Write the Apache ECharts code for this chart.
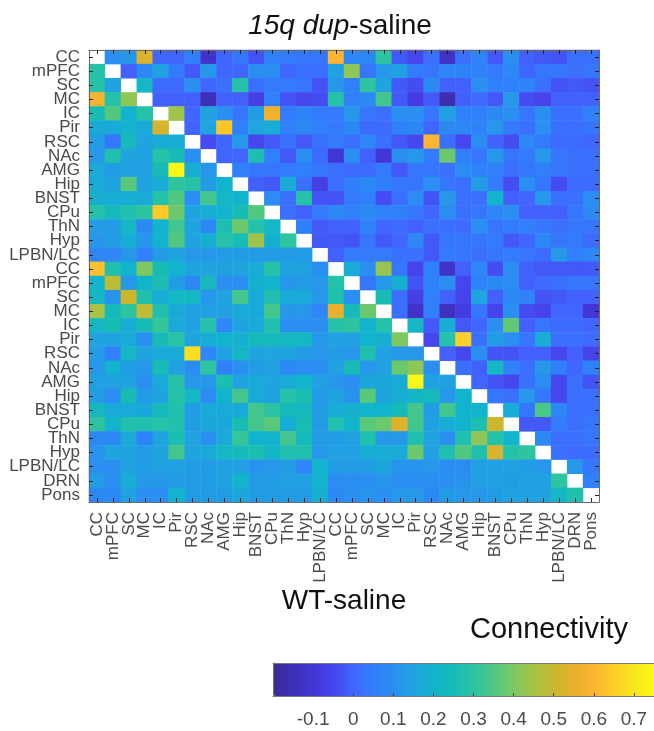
<!DOCTYPE html>
<html><head><meta charset="utf-8">
<style>html,body{margin:0;padding:0;background:#fff}#c{width:654px;height:731px}</style>
<script src="https://cdn.jsdelivr.net/npm/echarts@6/dist/echarts.min.js"></script>
</head><body><div id="c"></div>
<script>
const regions = ['CC','mPFC','SC','MC','IC','Pir','RSC','NAc','AMG','Hip','BNST','CPu','ThN','Hyp','LPBN/LC','CC','mPFC','SC','MC','IC','Pir','RSC','NAc','AMG','Hip','BNST','CPu','ThN','Hyp','LPBN/LC','DRN','Pons'];
const colorbarTicks = [-0.1,0,0.1,0.2,0.3,0.4,0.5,0.6,0.7];
const colorStops = ['#3b2a98','#3f2fb8','#4236d6','#4646ee','#4066ff','#3080fb','#2a8ff0','#1fa4df','#12b3cc','#18bcb5','#2ec4a0','#50c880','#7fc860','#a8c244','#ccb62e','#e8b02c','#fdb532','#fcd028','#f8e81e','#f9fb15'];
const _ = null;
const r00=[_,.1,.12,.53,0,0,.05,-.12,0,.03,-.03,.05,.04,.03,.03,.6,.07,.08,.3,-.02,-.05,.02,-.13,.02,.06,-.02,.1,-.01,-.02,-.03,.02,.02];
const r01=[.28,_,-.01,.08,.14,.04,-.02,.12,0,0,.1,.1,0,.02,.02,.14,.42,.03,.12,.14,.04,.03,.07,.06,.06,.04,.08,0,.03,.03,.02,.03];
const r02=[.28,.15,_,.22,.01,.01,.1,0,.02,.28,.02,.04,.04,.03,-.03,.12,.05,.3,.15,-.02,-.04,.08,-.01,-.01,.1,.05,.05,.06,.02,-.03,-.02,-.03];
const r03=[.58,.28,.42,_,-.01,-.01,-.01,-.15,-.01,-.01,-.07,.05,-.03,-.05,-.04,.28,.05,.08,.33,-.02,-.08,-.02,-.16,-.01,.01,-.02,.12,-.04,-.06,-.01,-.01,-.01];
const r04=[.25,.35,.2,.28,_,.44,0,.15,.1,.03,.13,.57,.04,.06,.04,.04,.12,.03,.02,.1,.1,.03,.14,.05,.05,.08,.1,.03,.1,.02,.02,.05];
const r05=[.17,.17,.2,.17,.52,_,0,.15,.63,.05,.15,.18,.05,.08,.05,.04,.08,.01,.01,.06,.08,0,.08,.07,.06,.12,.04,.02,.1,.02,.02,.03];
const r06=[.13,.03,.24,.15,.18,.18,_,-.04,0,.12,-.05,-.02,.02,-.02,.02,.04,.02,.07,.02,-.02,-.05,.6,.02,-.05,.09,-.01,-.04,.07,.04,.01,.01,0];
const r07=[.12,.27,.15,.14,.28,.25,.1,_,0,0,.26,.05,-.02,.1,.01,-.1,.1,-.01,-.1,.1,.12,.04,.38,.05,.03,.12,.03,.04,.12,.03,.02,.02];
const r08=[.17,.13,.14,.14,.25,.74,.18,.12,_,.05,.03,.03,.04,.05,.03,.02,.01,.01,.04,-.02,.03,.03,.02,.09,.06,.05,.02,.03,.05,.03,.02,.02];
const r09=[.17,.15,.36,.15,.18,.3,.28,.13,.2,_,-.01,-.02,.17,.02,-.07,.02,.05,.08,.05,.03,.03,.1,.03,.02,.13,.04,-.04,.1,.03,-.04,.01,.01];
const r10=[.19,.18,.18,.17,.28,.35,.1,.33,.22,.2,_,.09,.02,.28,-.03,-.03,.04,.05,-.04,.02,.09,-.03,.12,.02,.02,.2,-.01,0,.12,.02,.02,.09];
const r11=[.28,.24,.27,.3,.64,.38,.15,.18,.2,.25,.35,_,.02,-.01,.04,.08,.05,.08,.06,.05,.03,0,.09,.02,.03,.07,.1,-.01,-.01,-.01,.03,.08];
const r12=[.13,.13,.22,.08,.2,.33,.15,.08,.26,.38,.28,.22,_,.05,-.02,-.01,-.01,.06,0,.01,-.01,.02,.02,.01,.1,.03,.04,.05,.03,.02,.03,.03];
const r13=[.12,.13,.18,.12,.2,.35,.15,.19,.28,.25,.44,.19,.3,_,-.02,-.02,-.03,.03,-.02,0,.08,-.02,.03,.03,.03,.04,-.02,0,.08,.03,.04,.01];
const r14=[.07,.07,.12,.05,.13,.15,.12,.12,.13,.13,.13,.13,.13,.13,_,-.01,.04,.04,.04,.02,.02,-.02,.04,.03,.02,.03,.04,.03,.01,.12,.05,.07];
const r15=[.62,.27,.2,.4,.25,.2,.15,.15,.14,.15,.18,.28,.15,.14,.1,_,.17,.1,.43,.03,-.06,.05,-.12,-.01,.07,-.04,.09,-.01,-.02,-.02,-.02,-.02];
const r16=[.2,.48,.12,.2,.26,.13,.08,.23,.1,.1,.19,.2,.12,.13,.12,.28,_,.03,.12,.19,-.03,.05,.1,-.05,.06,.08,.09,-.01,.01,.02,.03,.03];
const r17=[.22,.11,.5,.27,.18,.22,.22,.12,.15,.33,.17,.27,.17,.17,.12,.27,.1,_,.25,.02,-.07,.05,-.01,-.06,.15,-.01,.08,.06,-.03,-.02,-.01,-.01];
const r18=[.45,.24,.3,.48,.27,.17,.14,.14,.14,.17,.17,.33,.12,.12,.07,.55,.24,.38,_,.02,-.12,.05,-.14,-.08,.03,-.06,.1,-.04,-.06,0,0,-.1];
const r19=[.22,.25,.18,.25,.31,.17,.14,.28,.07,.15,.17,.27,.1,.1,.1,.28,.3,.2,.28,_,.22,-.02,.18,-.02,0,.1,.37,-.01,.03,.01,.01,0];
const r20=[.15,.15,.17,.1,.25,.29,.15,.18,.2,.19,.24,.24,.22,.22,.12,.14,.14,.2,.19,.4,_,-.05,.28,.65,.02,.13,.1,.03,.18,.02,.02,.01];
const r21=[.13,.05,.22,.15,.17,.17,.68,.07,.14,.22,.15,.15,.15,.13,.12,.13,.12,.27,.14,.12,.12,_,-.01,-.05,.1,-.03,-.03,-.01,-.01,-.05,-.01,-.06];
const r22=[.12,.2,.13,.12,.25,.14,.09,.3,.05,.1,.13,.14,.08,.09,.1,.14,.25,.12,.14,.38,.42,.1,_,.02,-.01,.22,.06,.02,.12,.05,0,.06];
const r23=[.14,.14,.15,.1,.17,.28,.12,.12,.26,.15,.17,.15,.17,.2,.14,.12,.1,.16,.16,.17,.74,.14,.14,_,0,-.03,-.05,.02,.09,-.05,.02,-.03];
const r24=[.13,.09,.25,.13,.15,.28,.22,.09,.2,.33,.17,.14,.28,.26,.13,.15,.11,.36,.15,.18,.21,.24,.12,.2,_,.03,.02,.12,.03,-.05,.02,.02];
const r25=[.23,.17,.17,.16,.24,.27,.13,.17,.17,.17,.33,.29,.24,.23,.13,.18,.19,.2,.2,.24,.33,.13,.33,.2,.2,_,.18,.03,.34,.08,.02,.02];
const r26=[.3,.2,.27,.27,.28,.27,.13,.16,.16,.25,.33,.36,.18,.25,.13,.27,.2,.36,.38,.53,.33,.14,.18,.2,.26,.5,_,-.02,-.02,.04,.02,.03];
const r27=[.08,.08,.17,.06,.15,.26,.15,.1,.17,.31,.2,.2,.33,.24,.13,.13,.14,.27,.12,.12,.27,.15,.1,.27,.42,.28,.2,_,.08,.02,.02,.03];
const r28=[.11,.15,.15,.13,.15,.33,.15,.17,.22,.24,.26,.21,.27,.27,.12,.14,.14,.18,.18,.17,.38,.14,.27,.35,.27,.52,.28,.3,_,.02,.01,.01];
const r29=[.1,.1,.14,.13,.14,.14,.13,.13,.14,.14,.11,.12,.13,.07,.2,.13,.13,.13,.16,.11,.11,.12,.09,.09,.14,.14,.14,.13,.12,_,.12,.03];
const r30=[.13,.1,.18,.12,.12,.13,.13,.13,.14,.2,.13,.13,.14,.14,.2,.09,.1,.1,.12,.1,.1,.1,.1,.11,.14,.14,.13,.14,.14,.3,_,.05];
const r31=[.08,.08,.14,.1,.1,.2,.13,.13,.13,.16,.13,.13,.13,.13,.19,.08,.1,.11,.1,.12,.12,.08,.13,.12,.12,.13,.14,.14,.14,.22,.27,_];
const rows=[r00,r01,r02,r03,r04,r05,r06,r07,r08,r09,r10,r11,r12,r13,r14,r15,r16,r17,r18,r19,r20,r21,r22,r23,r24,r25,r26,r27,r28,r29,r30,r31];

const cells=[];
rows.forEach((row,y)=>row.forEach((v,x)=>{ if(v!==null) cells.push([x,y,v]); }));

const font='"Liberation Sans",Arial,sans-serif';
const frame={show:true,onZero:false,lineStyle:{color:'#6a6a6a',width:1}};
const ticks={show:true,inside:true,length:4,alignWithLabel:true,interval:0,lineStyle:{color:'#222',width:1}};
const labels={show:true,interval:0,fontFamily:font,fontSize:17,color:'#4a4a4a'};
const chart=echarts.init(document.getElementById('c'),null,{renderer:'canvas'});
chart.setOption({
  animation:false,
  backgroundColor:'#fff',
  title:[
    {text:'{i|15q dup}{n|-saline}',left:335,top:7,textAlign:'center',
     textStyle:{fontWeight:'normal',rich:{i:{fontFamily:font,fontStyle:'italic',fontWeight:'normal',fontSize:28,color:'#111'},n:{fontFamily:font,fontWeight:'normal',fontSize:28,color:'#111'}}}},
    {text:'WT-saline',left:339,top:582,textAlign:'center',textStyle:{fontFamily:font,fontWeight:'normal',fontSize:28,color:'#111'}},
    {text:'Connectivity',left:544,top:610,textAlign:'center',textStyle:{fontFamily:font,fontWeight:'normal',fontSize:29,color:'#111'}}
  ],
  grid:[
    {left:89,top:50,width:510,height:452},
    {left:273,top:663,width:383,height:33}
  ],
  xAxis:[
    {type:'category',gridIndex:0,position:'bottom',data:regions,axisLine:frame,axisTick:ticks,z:5,
     axisLabel:Object.assign({},labels,{rotate:90,margin:10}),splitLine:{show:false}},
    {type:'category',gridIndex:0,position:'top',data:regions,axisLine:frame,axisTick:ticks,z:5,
     axisLabel:{show:false},splitLine:{show:false}},
    {type:'value',gridIndex:1,position:'bottom',min:-0.2,max:0.75,z:6,
     axisLine:{show:true,onZero:false,lineStyle:{color:'#777'}},
     axisTick:{show:true,inside:true,length:3,customValues:colorbarTicks,lineStyle:{color:'#444'}},
     axisLabel:{show:true,customValues:colorbarTicks,margin:14,fontFamily:font,fontSize:19,color:'#4a4a4a',formatter:v=>String(+v.toFixed(1))},
     splitLine:{show:false}},
    {type:'value',gridIndex:1,position:'top',min:-0.2,max:0.75,z:6,
     axisLine:{show:true,onZero:false,lineStyle:{color:'#777'}},axisTick:{show:false},axisLabel:{show:false},splitLine:{show:false}}
  ],
  yAxis:[
    {type:'category',gridIndex:0,position:'left',inverse:true,data:regions,axisLine:frame,axisTick:ticks,z:5,
     axisLabel:Object.assign({},labels,{margin:9}),splitLine:{show:false}},
    {type:'category',gridIndex:0,position:'right',inverse:true,data:regions,axisLine:frame,axisTick:ticks,z:5,
     axisLabel:{show:false},splitLine:{show:false}},
    {type:'value',gridIndex:1,min:0,max:1,show:true,z:6,axisLine:{show:true,onZero:false,lineStyle:{color:'#777'}},axisTick:{show:false},axisLabel:{show:false},splitLine:{show:false}}
  ],
  visualMap:{
    type:'continuous',seriesIndex:0,min:-0.2,max:0.75,calculable:false,orient:'horizontal',
    left:273,top:663,padding:0,itemWidth:33,itemHeight:383,text:null,showLabel:false,z:3,
    inRange:{color:colorStops}
  },
  series:[{type:'heatmap',xAxisIndex:0,yAxisIndex:0,data:cells,progressive:0,emphasis:{disabled:true},z:2}]
});
</script></body></html>
